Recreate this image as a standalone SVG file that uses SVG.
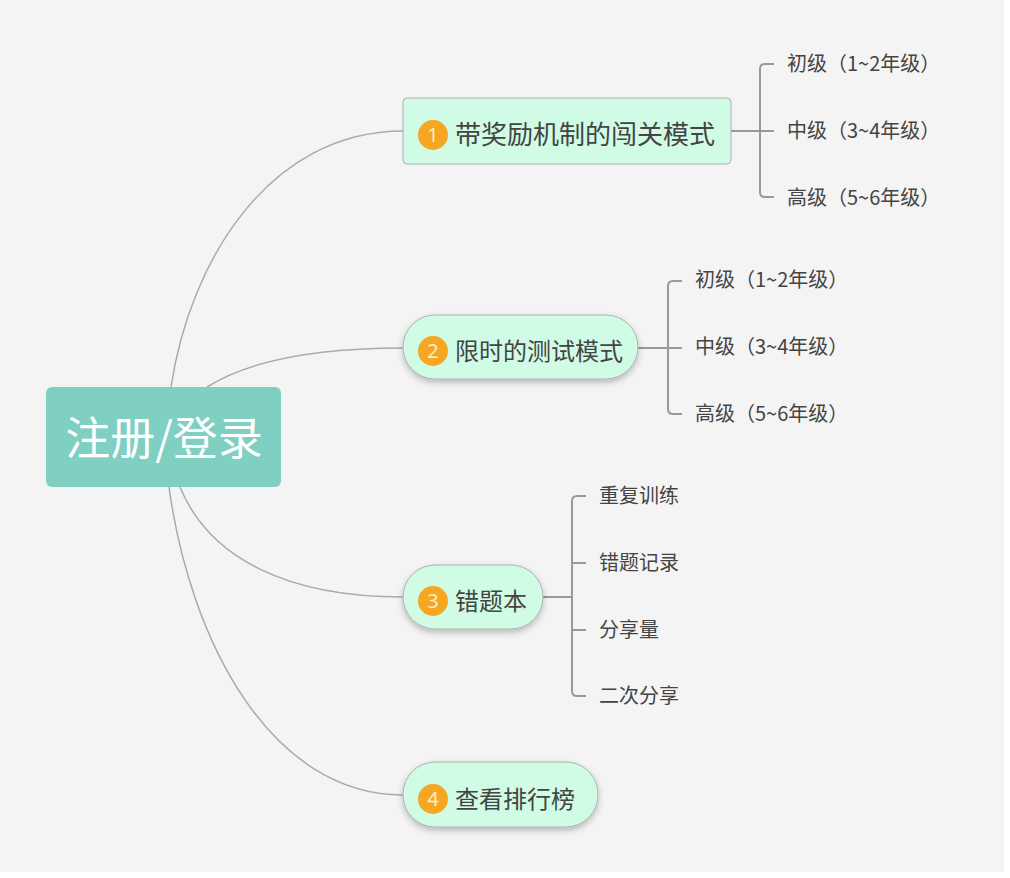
<svg xmlns="http://www.w3.org/2000/svg" width="1010" height="878" viewBox="0 0 1010 878">
<defs>
<style>
.conn{fill:none;stroke:#aaaaaa;stroke-width:1.5}
.br{fill:none;stroke:#999999;stroke-width:2}
.topic{fill:#d0fbe4;stroke:#b0b0b0;stroke-width:1}
.badge{fill:#f5a623}
.num{font-family:"Open Sans","Noto Sans",sans-serif;font-size:20px;fill:#fdf2d0;text-anchor:middle}
.t1{font-family:"Noto Sans CJK SC","Noto Sans",sans-serif;font-size:24px;fill:#444444}
.sub{font-family:"Noto Sans CJK SC","Noto Sans",sans-serif;font-size:20px;fill:#444444}
</style>
<filter id="sh" x="-20%" y="-30%" width="140%" height="170%">
<feDropShadow dx="0" dy="3" stdDeviation="3" flood-color="#000" flood-opacity="0.25"/>
</filter>
</defs>
<rect x="0" y="0" width="1010" height="878" fill="#ffffff"/>
<rect x="0" y="0" width="1004" height="872" fill="#f4f4f4"/>
<g id="connectors">
<path class="conn" d="M171,387 C190,260 270,131 403,131"/>
<path class="conn" d="M207,387 C250,360 320,348 403,348"/>
<path class="conn" d="M180,487 C210,560 290,597 403,597"/>
<path class="conn" d="M169,487 C190,640 270,795 403,795"/>
<path class="br" d="M731,131 H760 M774,64 H765 Q760,64 760,69 V192 Q760,197 765,197 H774 M760,131 H774"/>
<path class="br" d="M638,348 H668 M682,281 H673 Q668,281 668,286 V409 Q668,414 673,414 H682 M668,348 H682"/>
<path class="br" d="M543,597 H572 M586,496 H577 Q572,496 572,501 V691 Q572,696 577,696 H586 M572,563 H586 M572,630 H586"/>
</g>
<g id="root">
<rect x="46" y="387" width="235" height="100" rx="6" fill="#7fcfc2"/>
<text x="164" y="455" font-family="Noto Sans CJK SC, Noto Sans, sans-serif" font-size="45" fill="#ffffff" text-anchor="middle">注册/登录</text>
</g>
<g id="node1">
<rect class="topic" x="403" y="98" width="328" height="66" rx="4"/>
<circle class="badge" cx="433" cy="135" r="15"/>
<text class="num" x="433" y="142">1</text>
<text class="t1" x="455" y="144" style="font-size:26px">带奖励机制的闯关模式</text>
</g>
<g id="node2">
<rect class="topic" x="403" y="315" width="235" height="64" rx="32" filter="url(#sh)"/>
<circle class="badge" cx="433" cy="351" r="15"/>
<text class="num" x="433" y="358">2</text>
<text class="t1" x="455" y="360">限时的测试模式</text>
</g>
<g id="node3">
<rect class="topic" x="403" y="565" width="140" height="64" rx="32" filter="url(#sh)"/>
<circle class="badge" cx="433" cy="601" r="15"/>
<text class="num" x="433" y="608">3</text>
<text class="t1" x="455" y="610">错题本</text>
</g>
<g id="node4">
<rect class="topic" x="403" y="762" width="195" height="65" rx="32" filter="url(#sh)"/>
<circle class="badge" cx="433" cy="799" r="15"/>
<text class="num" x="433" y="806">4</text>
<text class="t1" x="455" y="808">查看排行榜</text>
</g>
<g id="sub1">
<text class="sub" x="787" y="71">初级（1~2年级）</text>
<text class="sub" x="787" y="138">中级（3~4年级）</text>
<text class="sub" x="787" y="205">高级（5~6年级）</text>
</g>
<g id="sub2">
<text class="sub" x="695" y="287">初级（1~2年级）</text>
<text class="sub" x="695" y="354">中级（3~4年级）</text>
<text class="sub" x="695" y="421">高级（5~6年级）</text>
</g>
<g id="sub3">
<text class="sub" x="599" y="503">重复训练</text>
<text class="sub" x="599" y="570">错题记录</text>
<text class="sub" x="599" y="637">分享量</text>
<text class="sub" x="599" y="703">二次分享</text>
</g>
</svg>
